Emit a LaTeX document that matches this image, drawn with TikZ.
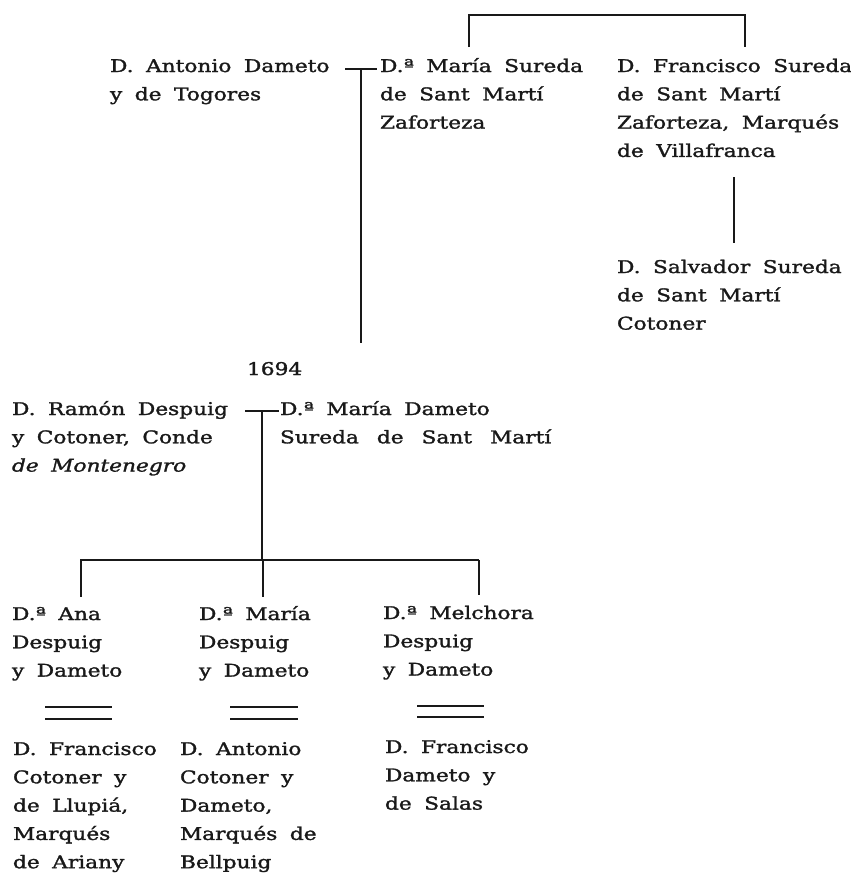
\documentclass[tikz,border=0pt]{standalone}
\usepackage{fontspec}
\setmainfont[FakeStretch=1.24,FakeBold=1.6]{DejaVu Serif}
\newcommand{\blk}[1]{\begin{tabular}[t]{@{}l@{}}#1\end{tabular}}
\newcommand{\txtfont}{\fontsize{17.5}{28.3}\selectfont\spaceskip=12.5pt plus 2pt minus 1pt\relax}
\tikzset{
  person/.style={anchor=base west, inner sep=0pt, outer sep=0pt, font=\txtfont, text=black!90},
  kin/.style={line width=2.8pt, black!90},
  wed/.style={line width=2pt, black!90}
}
\begin{document}
\begin{tikzpicture}[x=1pt,y=-1pt]
\useasboundingbox (0,0) rectangle (851,873);
\fill[white] (0,0) rectangle (851,873);

% text blocks
\node[person] (antonio) at (110,72) {\blk{D. Antonio Dameto\\y de Togores}};
\node[person] (mariaS) at (380,72) {\blk{D.ª María Sureda\\de Sant Martí\\Zaforteza}};
\node[person] (franciscoS) at (617,72) {\blk{D. Francisco Sureda\\de Sant Martí\\Zaforteza, Marqués\\de Villafranca}};
\node[person] (salvador) at (617,273) {\blk{D. Salvador Sureda\\de Sant Martí\\Cotoner}};
\node[person] (year) at (247,375) {1694};
\node[person] (ramon) at (12,415) {\blk{D. Ramón Despuig\\y Cotoner, Conde\\\textit{de Montenegro}}};
\node[person] (mariaD) at (280,415) {\blk{D.ª María Dameto\\Sureda\hspace{18pt}de\hspace{18pt}Sant\hspace{18pt}Martí}};
\node[person] (ana) at (12,620) {\blk{D.ª Ana\\Despuig\\y Dameto}};
\node[person] (mariaC) at (199,620) {\blk{D.ª María\\Despuig\\y Dameto}};
\node[person] (melchora) at (383,619) {\blk{D.ª Melchora\\Despuig\\y Dameto}};
\node[person] (fcotoner) at (13,755) {\blk{D. Francisco\\Cotoner y\\de Llupiá,\\Marqués\\de Ariany}};
\node[person] (acotoner) at (180,755) {\blk{D. Antonio\\Cotoner y\\Dameto,\\Marqués de\\Bellpuig}};
\node[person] (fdameto) at (385,753) {\blk{D. Francisco\\Dameto y\\de Salas}};

% anchor coordinates for connectors
\coordinate (sibL) at (469,47);
\coordinate (sibLt) at (469,15);
\coordinate (sibRt) at (745,15);
\coordinate (sibR) at (745,47);
\coordinate (m1a) at (345,69);
\coordinate (m1b) at (377,69);
\coordinate (m1c) at (361,69);
\coordinate (m1d) at (361,343);
\coordinate (fsA) at (734,177);
\coordinate (fsB) at (734,243);
\coordinate (m2a) at (245,411);
\coordinate (m2b) at (279,411);
\coordinate (m2c) at (262,411);
\coordinate (barL) at (80,560);
\coordinate (barM) at (262,560);
\coordinate (barR) at (479,560);
\coordinate (chA) at (81,597);
\coordinate (chM) at (263,597);
\coordinate (chR) at (479,595);

% connectors
\draw[kin] (sibL) -- (sibLt) -- (sibRt) -- (sibR);
\draw[kin] (m1a) -- (m1b);
\draw[kin] (m1c) -- (m1d);
\draw[kin] (fsA) -- (fsB);
\draw[kin] (m2a) -- (m2b);
\draw[kin] (m2c) -- (barM);
\draw[kin] (barL) -- (barR);
\draw[kin] (barL -| chA) -- (chA);
\draw[kin] (barM -| chM) -- (chM);
\draw[kin] (barR) -- (chR);

% marriage double lines
\draw[wed] (45,707) -- (112,707);
\draw[wed] (45,719) -- (112,719);
\draw[wed] (230,707) -- (298,707);
\draw[wed] (230,719) -- (298,719);
\draw[wed] (417,706) -- (484,706);
\draw[wed] (417,717) -- (484,717);
\end{tikzpicture}
\end{document}
